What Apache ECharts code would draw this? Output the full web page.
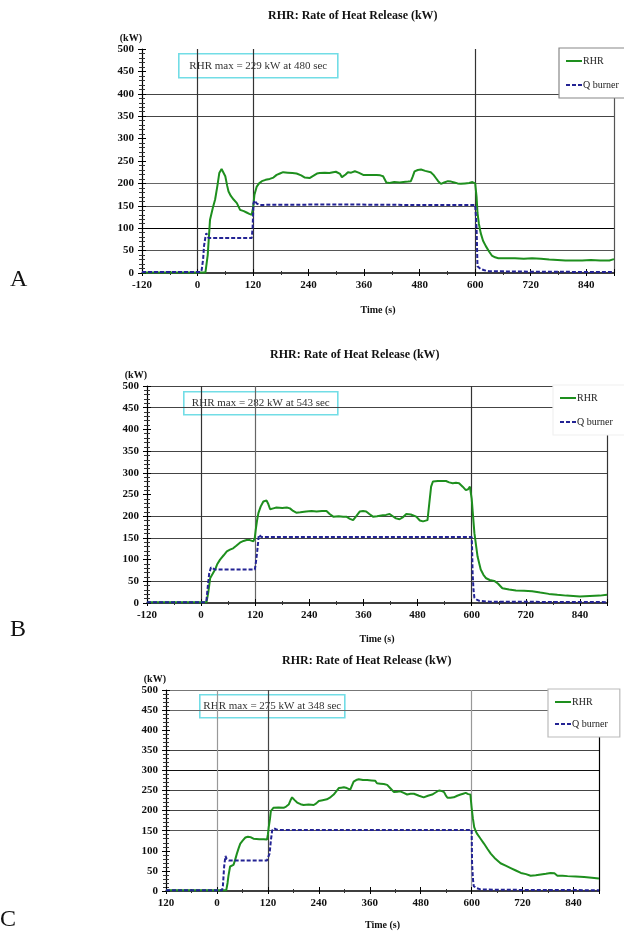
<!DOCTYPE html>
<html>
<head>
<meta charset="utf-8">
<script src="https://cdn.jsdelivr.net/npm/echarts@6/dist/echarts.min.js"></script>
<style>
  html, body { margin: 0; padding: 0; background: #fff; }
  #main { width: 624px; height: 931px; }
</style>
</head>
<body>
<div id="main"></div>
<script>
  // time axis tick labels (panel C shows "120" without the minus sign)
  const xLabelsA = ['-120', '0', '120', '240', '360', '480', '600', '720', '840'];
  const xLabelsB = ['-120', '0', '120', '240', '360', '480', '600', '720', '840'];
  const xLabelsC = ['120', '0', '120', '240', '360', '480', '600', '720', '840'];

  const notes = [
    'RHR max = 229 kW at 480 sec',
    'RHR max = 282 kW at 543 sec',
    'RHR max = 275 kW at 348 sec'
  ];

  // [time (s), kW]
  const rhrA = [[-120,1],[17,1],[22,40],[27,119],[33,145],[38,164],[43,195],[47,223],[52,232],[56,228],[60,216],[64,195],[67,182],[72,172],[78,164],[85,156],[92,141],[100,138],[106,135],[112,132],[117,130],[120,145],[123,175],[128,193],[133,200],[139,205],[147,208],[156,210],[164,213],[171,219],[178,222],[185,225],[195,224],[205,223],[214,222],[224,218],[232,213],[242,212],[250,217],[258,222],[264,223],[275,224],[285,223],[293,225],[299,226],[303,229],[308,221],[312,214],[316,210],[320,220],[325,225],[332,224],[340,227],[348,224],[358,219],[370,219],[380,219],[387,219],[395,218],[401,216],[405,208],[408,202],[415,201],[425,203],[437,202],[445,203],[455,204],[461,205],[465,215],[469,227],[476,230],[483,231],[492,228],[504,225],[510,219],[515,212],[520,205],[526,199],[533,202],[541,205],[548,204],[555,202],[562,200],[569,199],[578,200],[587,201],[594,203],[598,207],[600,200],[603,170],[605,134],[608,110],[612,89],[617,72],[623,60],[630,48],[636,39],[643,35],[650,33],[668,33],[686,33],[705,32],[723,33],[742,32],[760,30],[778,29],[795,28],[813,28],[831,28],[850,29],[870,28],[890,28],[900,31]];
  const qA = [[-120,2],[6,2],[9,7],[12,30],[14,60],[17,80],[19,89],[21,84],[24,78],[60,78],[117,78],[119,100],[121,156],[124,162],[128,155],[135,152],[300,153],[450,152],[600,152],[602,120],[603,100],[605,15],[612,9],[620,6],[630,4],[720,3],[900,2]];

  const rhrB = [[-120,2],[12,2],[16,25],[20,57],[25,66],[31,77],[36,90],[42,100],[50,110],[57,119],[64,123],[71,126],[78,132],[86,139],[94,143],[101,145],[108,145],[116,142],[119,150],[121,168],[124,190],[127,207],[132,222],[138,234],[145,236],[149,228],[153,216],[160,218],[167,220],[180,219],[190,220],[197,218],[204,212],[211,208],[220,209],[233,211],[245,212],[256,211],[268,212],[278,212],[285,205],[293,199],[305,200],[315,199],[322,199],[330,194],[337,191],[344,200],[352,211],[359,212],[366,211],[373,205],[381,199],[390,200],[403,202],[410,203],[418,205],[425,200],[432,195],[440,193],[448,198],[455,205],[465,204],[477,199],[485,190],[492,188],[502,191],[506,230],[510,268],[514,280],[518,282],[525,281],[534,281],[543,281],[550,278],[558,276],[565,277],[572,276],[580,268],[587,260],[592,262],[596,268],[599,268],[600,240],[603,200],[606,161],[610,130],[613,107],[617,90],[620,77],[626,65],[632,57],[640,53],[650,51],[658,45],[668,34],[683,31],[698,29],[716,28],[734,27],[752,24],[771,21],[790,19],[810,17],[825,16],[840,15],[862,16],[884,17],[900,19]];
  const qB = [[-120,2],[10,2],[12,8],[15,40],[18,69],[22,82],[26,78],[31,77],[119,77],[121,90],[124,115],[128,157],[131,155],[134,152],[600,152],[601,120],[602,69],[604,30],[606,12],[611,8],[617,5],[640,3],[900,2]];

  const rhrC = [[-120,2],[22,2],[25,20],[27,37],[31,61],[39,65],[43,78],[47,93],[51,106],[55,118],[61,126],[67,133],[73,135],[79,134],[86,130],[100,129],[110,129],[118,128],[120,140],[122,159],[125,180],[127,199],[133,207],[145,208],[157,207],[163,210],[169,215],[173,225],[177,233],[183,226],[189,220],[197,216],[204,214],[216,215],[228,214],[234,218],[240,224],[249,226],[259,228],[266,232],[275,240],[281,248],[287,256],[293,257],[299,258],[306,256],[314,252],[318,262],[322,272],[328,276],[334,278],[344,276],[354,276],[364,275],[373,274],[377,268],[385,267],[393,266],[401,264],[409,255],[417,246],[425,247],[432,248],[440,244],[448,240],[456,242],[464,242],[476,237],[487,233],[497,237],[507,240],[515,245],[523,250],[529,249],[535,246],[539,238],[543,232],[550,232],[558,233],[566,237],[574,240],[580,242],[586,244],[592,241],[597,240],[600,207],[603,180],[606,159],[610,148],[613,142],[621,130],[629,118],[637,105],[645,93],[656,80],[668,69],[680,63],[692,57],[704,51],[716,45],[728,42],[739,38],[751,39],[763,41],[775,43],[786,45],[795,44],[802,38],[814,38],[826,37],[845,36],[865,35],[883,33],[900,31]];
  const qC = [[-120,2],[12,2],[14,12],[17,61],[20,87],[23,80],[28,76],[118,76],[121,85],[124,93],[127,125],[130,150],[134,156],[140,153],[145,152],[600,152],[601,69],[603,30],[605,12],[612,7],[621,4],[660,3],[900,2]];

  const SERIF = '"Liberation Serif", "DejaVu Serif", serif';
  const T = 'rgba(0,0,0,0)';

  // panel layout
  const panels = [
    { grid: { left: 142, top: 49, width: 472, height: 224 }, labels: xLabelsA, rhr: rhrA, q: qA,
      ySplit: [T, '#555', '#000', '#555', '#666', T, T, '#444', '#444', T, T],
      xSplit: [T, '#333', '#333', T, T, T, '#333', T, T, '#555'],
      title: { left: 268, top: 10 }, note: [178, 53, 159, 24], nameGap: 32,
      legend: { left: 559, top: 48, border: '#888', gap: 14 }, letter: [10, 268] },
    { grid: { left: 147, top: 386, width: 460, height: 217 }, labels: xLabelsB, rhr: rhrB, q: qB,
      ySplit: [T, '#444', T, '#444', '#444', T, '#444', '#444', T, '#444', '#444'],
      xSplit: [T, '#333', '#666', T, T, T, '#333', T, T, '#333'],
      title: { left: 270, top: 349 }, note: [183, 391, 154, 23], nameGap: 31,
      legend: { left: 553, top: 385, border: '#f0f0f0', gap: 14 }, letter: [10, 618] },
    { grid: { left: 166, top: 690, width: 433, height: 205 }, labels: xLabelsC, rhr: rhrC, q: qC,
      ySplit: [T, T, T, '#555', '#444', '#444', '#111', '#444', T, '#666', '#777'],
      xSplit: [T, '#999', '#444', T, T, T, '#999', T, T, '#000'],
      title: { left: 282, top: 655 }, note: [199, 694, 145, 23], nameGap: 29,
      legend: { left: 548, top: 689, border: '#bbb', gap: 12 }, letter: [0, 908] }
  ];

  const chart = echarts.init(document.getElementById('main'));

  const grid = [], xAxis = [], yAxis = [], series = [], title = [], legend = [], graphic = [];
  const letters = ['A', 'B', 'C'];

  panels.forEach((p, i) => {
    grid.push(p.grid);
    title.push({
      text: 'RHR: Rate of Heat Release (kW)', left: p.title.left, top: p.title.top, padding: 0,
      textStyle: { fontFamily: SERIF, fontSize: 12, fontWeight: 'bold', color: '#111' }
    });
    // main x axis
    xAxis.push({
      type: 'value', gridIndex: i, min: -120, max: 900, interval: 120,
      name: 'Time (s)', nameLocation: 'middle', nameGap: p.nameGap,
      nameTextStyle: { fontFamily: SERIF, fontSize: 10, fontWeight: 'bold', color: '#111' },
      axisLine: { onZero: false, lineStyle: { color: '#000', width: 1.5 } },
      axisTick: { length: 3, lineStyle: { color: '#000' } },
      minorTick: { show: true, splitNumber: 2, length: 2, lineStyle: { color: '#333' } },
      axisLabel: {
        margin: 7, fontFamily: SERIF, fontSize: 11, fontWeight: 'bold', color: '#111',
        formatter: v => (v % 120 === 0 ? p.labels[Math.round((v + 120) / 120)] : '')
      },
      splitLine: { show: true, lineStyle: { color: p.xSplit, width: 1.2 } }
    });
    // mirror x axis: ticks pointing up
    xAxis.push({
      type: 'value', gridIndex: i, min: -120, max: 900, interval: 120, position: 'bottom',
      axisLine: { show: false, onZero: false },
      axisTick: { inside: true, length: 4, lineStyle: { color: '#000' } },
      minorTick: { show: true, splitNumber: 2, length: 2, lineStyle: { color: '#333' } },
      axisLabel: { show: false }, splitLine: { show: false }
    });
    yAxis.push({
      type: 'value', gridIndex: i, min: 0, max: 500, interval: 50,
      name: '(kW)', nameLocation: 'end', nameGap: 6,
      nameTextStyle: { fontFamily: SERIF, fontSize: 10, fontWeight: 'bold', color: '#111', align: 'right' },
      axisLine: { show: true, onZero: false, lineStyle: { color: '#000', width: 1.2 } },
      axisTick: { show: true, length: 4, lineStyle: { color: '#000' } },
      minorTick: { show: true, splitNumber: 5, length: 3, lineStyle: { color: '#333' } },
      axisLabel: { margin: 8, fontFamily: SERIF, fontSize: 11, fontWeight: 'bold', color: '#111' },
      splitLine: { show: true, lineStyle: { color: p.ySplit, width: 1.2 } }
    });
    // mirror y axis: ticks pointing right
    yAxis.push({
      type: 'value', gridIndex: i, min: 0, max: 500, interval: 50, position: 'left',
      axisLine: { show: false, onZero: false },
      axisTick: { inside: true, length: 4, lineStyle: { color: '#000' } },
      minorTick: { show: true, splitNumber: 5, length: 3, lineStyle: { color: '#333' } },
      axisLabel: { show: false }, splitLine: { show: false }
    });
    series.push({
      name: 'RHR', type: 'line', xAxisIndex: i * 2, yAxisIndex: i * 2, data: p.rhr,
      showSymbol: false, symbol: 'none', color: '#1e8f1e',
      lineStyle: { color: '#1e8f1e', width: 2 }, z: 3
    });
    series.push({
      name: 'Q burner', type: 'line', xAxisIndex: i * 2, yAxisIndex: i * 2, data: p.q,
      showSymbol: false, symbol: 'none', color: '#232394',
      lineStyle: { color: '#232394', width: 2, type: [4, 2] }, z: 4
    });
    legend.push({
      orient: 'vertical', left: p.legend.left, top: p.legend.top, padding: [8, 12, 8, 6],
      itemGap: p.legend.gap, itemWidth: 16, itemHeight: 10,
      backgroundColor: '#fff', borderColor: p.legend.border, borderWidth: 1.2,
      data: ['RHR', 'Q burner'], selectedMode: false,
      itemStyle: { opacity: 0 },
      textStyle: { fontFamily: SERIF, fontSize: 10, color: '#222', padding: [0, 0, 0, -4] }
    });
    const n = p.note;
    graphic.push({
      type: 'group', left: n[0], top: n[1], z: 20,
      children: [
        { type: 'rect', shape: { x: 0, y: 0, width: n[2], height: n[3] },
          style: { fill: '#fff', stroke: '#72dde6', lineWidth: 1.6 } },
        { type: 'text', x: n[2] / 2, y: n[3] / 2,
          style: { text: notes[i], fontFamily: SERIF, fontSize: 11, fill: '#333',
                   align: 'center', verticalAlign: 'middle' } }
      ]
    });
    graphic.push({
      type: 'text', left: p.letter[0], top: p.letter[1], z: 20,
      style: { text: letters[i], fontFamily: SERIF, fontSize: 24, fill: '#111' }
    });
  });

  chart.setOption({
    animation: false,
    backgroundColor: '#fff',
    title: title,
    grid: grid,
    xAxis: xAxis,
    yAxis: yAxis,
    legend: legend,
    series: series,
    graphic: graphic
  });
</script>
</body>
</html>
